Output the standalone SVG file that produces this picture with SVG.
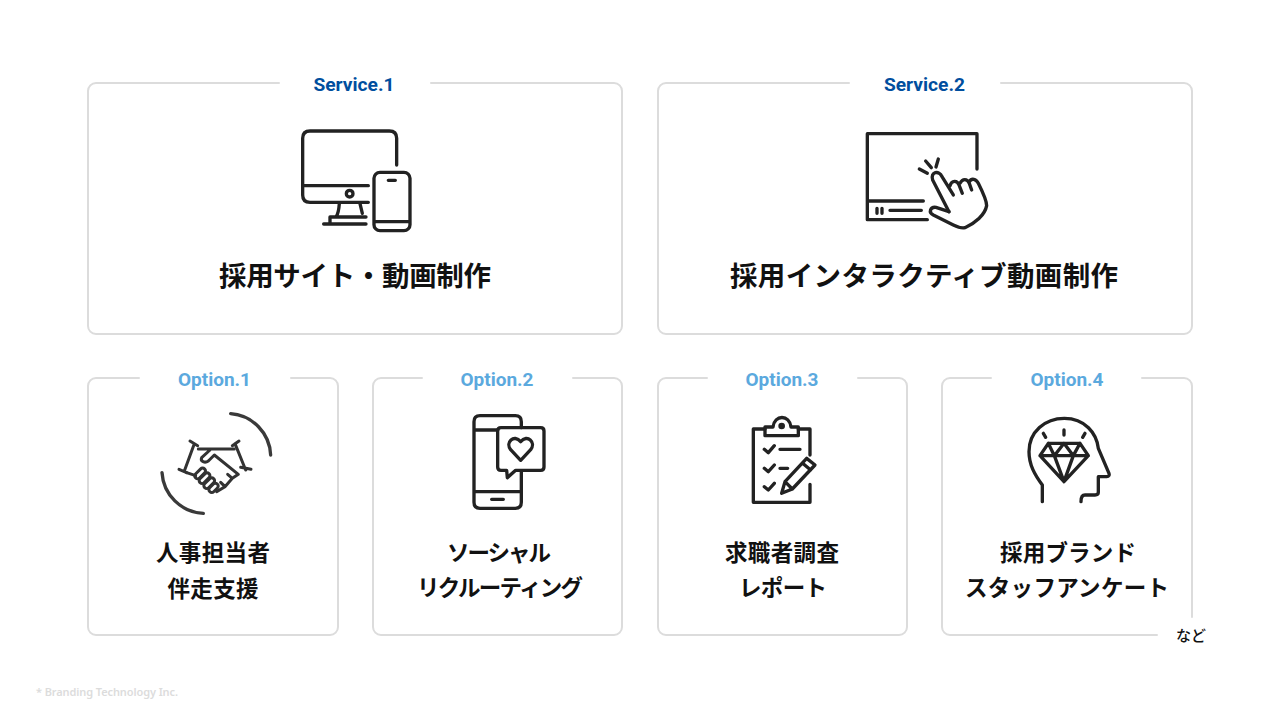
<svg xmlns="http://www.w3.org/2000/svg" width="1280" height="720" viewBox="0 0 1280 720">
<style>
.box{fill:none;stroke:#dcdcdc;stroke-width:2;stroke-linecap:round}
.svc{font:700 19.200px Roboto,"Liberation Sans",sans-serif;fill:#004e9e;text-anchor:middle}
.opt{font:700 19px Roboto,"Liberation Sans",sans-serif;fill:#5ba9de;text-anchor:middle}
.t1{font:700 27.500px "Noto Sans CJK JP",sans-serif;fill:#111;text-anchor:middle}
.t2{font:700 22.500px "Noto Sans CJK JP",sans-serif;fill:#111;text-anchor:middle}
.ic{fill:none;stroke:#222;stroke-width:10;stroke-linecap:round;stroke-linejoin:round}
</style>
<rect width="1280" height="720" fill="#fff"/>
<g id="service1">
<path class="box" d="M279 83H96a8 8 0 0 0-8 8V326a8 8 0 0 0 8 8H614a8 8 0 0 0 8-8V91a8 8 0 0 0-8-8H431"/>
<text class="svc" x="354" y="91">Service.1</text>
<g class="ic" transform="translate(280 115) scale(.3333)">
<path d="M350 150V70Q350 48 328 48H90Q68 48 68 70V240Q68 262 90 262H265"/>
<path d="M70 212H265M178 266Q176 295 168 306H150V327M240 266L247 295M150 306H258M131 327H258"/>
<circle cx="209" cy="236" r="10"/>
<rect x="282" y="172" width="108" height="175" rx="18"/>
<path d="M284 320H388M325 196H346"/>
</g>
<text class="t1" x="355" y="286" textLength="272">採用サイト・動画制作</text>
</g>
<g id="service2">
<path class="box" d="M849 83H666a8 8 0 0 0-8 8V326a8 8 0 0 0 8 8H1184a8 8 0 0 0 8-8V91a8 8 0 0 0-8-8H1001"/>
<text class="svc" x="924.500" y="91">Service.2</text>
<g class="ic" transform="translate(850 115) scale(.3333)">
<path d="M381 162V56H52V314H232M54 258H220M120 286H214M81 280V295M96 280V295"/>
<path d="M297 290L248 195C240 170 268 165 276 185L310 240M300 212C305 195 322 195 327 210L337 235M330 205C337 190 352 190 358 205L365 225"/>
<path d="M358 200C365 188 378 192 385 205C400 235 410 255 410 272C405 300 375 325 345 338C335 340 320 335 310 330L250 300C235 292 240 275 258 277L297 290"/>
<path d="M208 162L232 175M227 138L244 158M265 132L258 156"/>
</g>
<text class="t1" x="924" y="286" textLength="388">採用インタラクティブ動画制作</text>
</g>
<g id="option1">
<path class="box" d="M139 378H96a8 8 0 0 0-8 8V627a8 8 0 0 0 8 8H330a8 8 0 0 0 8-8V386a8 8 0 0 0-8-8H291"/>
<text class="opt" x="214.500" y="386">Option.1</text>
<g class="ic" transform="translate(150 405) scale(.3333)" style="stroke:#3a3a3a">
<path d="M242 26A130 130 0 0 1 362 150M36 203A130 130 0 0 0 160 325"/>
</g>
<g class="ic" transform="translate(175 435) scale(.3333)" style="stroke:#333;stroke-width:9">
<path d="M45 18L68 32M58 26L28 108M12 103L35 113M172 32L192 18M180 26L212 105M197 97L228 103"/>
<path d="M70 42H178M105 45L80 68C75 80 90 85 100 78L118 60L190 118L172 130L150 155L125 170M35 113L62 122M172 130L158 118M150 155L137 142"/>
<rect x="56" y="107" width="38" height="17" rx="8" transform="rotate(-45 75 115)"/>
<rect x="70" y="121" width="38" height="17" rx="8" transform="rotate(-45 89 130)"/>
<rect x="84" y="136" width="38" height="17" rx="8" transform="rotate(-45 103 145)"/>
<rect x="100" y="150" width="32" height="17" rx="8" transform="rotate(-45 116 159)"/>
</g>
<text class="t2" x="213" y="561" textLength="114">人事担当者</text>
<text class="t2" x="213" y="597" textLength="91">伴走支援</text>
</g>
<g id="option2">
<path class="box" d="M422 378H381a8 8 0 0 0-8 8V627a8 8 0 0 0 8 8H614a8 8 0 0 0 8-8V386a8 8 0 0 0-8-8H573"/>
<text class="opt" x="497" y="386">Option.2</text>
<g class="ic" transform="translate(450 405) scale(.3333)">
<path d="M214 68V50Q214 32 196 32H90Q72 32 72 50V292Q72 310 90 310H196Q214 310 214 292V198M72 75H143M72 260H214M125 283H160"/>
<path d="M153 68H272Q282 68 282 78V186Q282 196 272 196H197L172 218L170 196H153Q143 196 143 186V78Q143 68 153 68Z"/>
<path d="M212 166L182 134C165 112 192 86 212 110C232 86 259 112 242 134Z"/>
</g>
<text class="t2" x="499" y="561" textLength="104">ソーシャル</text>
<text class="t2" x="500" y="596" textLength="166">リクルーティング</text>
</g>
<g id="option3">
<path class="box" d="M707 378H666a8 8 0 0 0-8 8V627a8 8 0 0 0 8 8H899a8 8 0 0 0 8-8V386a8 8 0 0 0-8-8H858"/>
<text class="opt" x="782" y="386">Option.3</text>
<g class="ic" transform="translate(735 405) scale(.3333)">
<path d="M90 72H55V292H225V238M190 72H225V150"/>
<path d="M90 92V66H114C118 28 164 28 168 66H190V92Z"/>
<circle cx="140" cy="63" r="5"/>
<path d="M88 133L100 143L118 122M88 190L100 200L118 180M88 245L100 255L118 235M135 133H195M135 190H158"/>
<path d="M140 265L150 230L215 160L240 180L172 252ZM150 230L172 252M202 174L227 195"/>
</g>
<text class="t2" x="782" y="561" textLength="114">求職者調査</text>
<text class="t2" x="783" y="596" textLength="88">レポート</text>
</g>
<g id="option4">
<path class="box" d="M991 378H950a8 8 0 0 0-8 8V627a8 8 0 0 0 8 8H1157M1192 617V386a8 8 0 0 0-8-8H1142"/>
<text class="opt" x="1067" y="386">Option.4</text>
<g class="ic" transform="translate(1015 405) scale(.3333)">
<path d="M82 290V240C60 210 42 180 42 140C42 80 90 40 148 40C210 40 245 85 250 130L282 205Q285 214 275 215H250V262Q250 270 240 270H210Q198 270 198 290"/>
<path d="M85 85L92 97M147 75V90M210 85L203 97"/>
<path d="M100 115H195L220 152L147 230L75 152ZM75 152H220M100 115L118 152L147 115L175 152L195 115M118 152L147 230L175 152"/>
</g>
<text class="t2" x="1068" y="561" textLength="136">採用ブランド</text>
<text class="t2" x="1067" y="596" textLength="204">スタッフアンケート</text>
</g>
<text x="1191" y="641" style="font:500 15px 'Noto Sans CJK JP',sans-serif;fill:#111;text-anchor:middle">など</text>
<text x="36" y="696" textLength="142" style="font:600 11px 'Noto Sans',sans-serif;fill:#dcdcdc">* Branding Technology Inc.</text>
</svg>
